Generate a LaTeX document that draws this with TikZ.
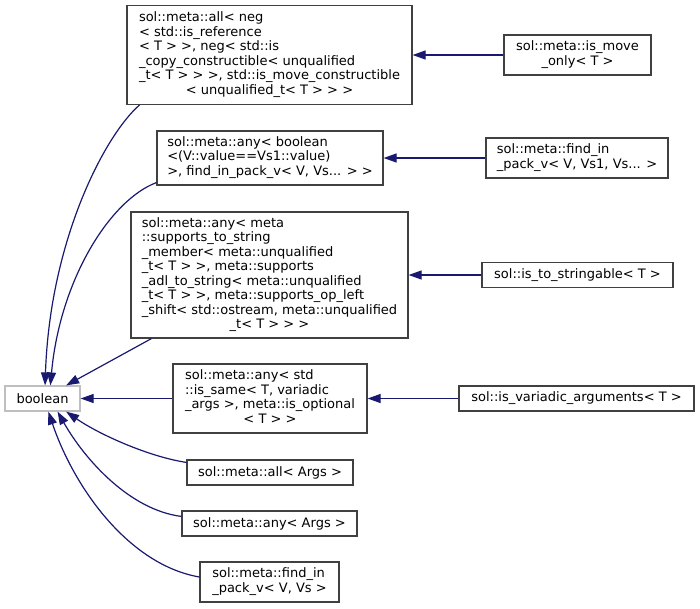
\documentclass[tikz,border=0pt]{standalone}
\usepackage{fontspec}
\newfontfamily\dejavu{DejaVu Sans}
\usetikzlibrary{arrows.meta}
\definecolor{edgeblue}{HTML}{191970}
\definecolor{boxgray}{HTML}{404040}
\definecolor{basegray}{HTML}{BFBFBF}
\newcommand{\lastln}[1]{\multicolumn{1}{@{}c@{}}{#1}}

\begin{document}
\begin{tikzpicture}[x=1pt, y=-1pt,
    cls/.style={draw=boxgray, line width=1.2pt, fill=white, inner sep=0pt,
      font=\dejavu\fontsize{13}{14.5}\selectfont},
    basecls/.style={cls, draw=basegray},
    inh/.style={draw=edgeblue, line width=1.2pt, -{Triangle[length=13pt,width=9pt]}}]
      \useasboundingbox (0,0) rectangle (700,608);

      \node[basecls, minimum width=75pt, minimum height=25pt] (base) at (42.5,398.5) {boolean};

      \node[cls, minimum width=285pt, minimum height=99pt] (par1) at (269.5,55) {\begin{tabular}{@{}l@{}}
        sol::meta::all< neg\\
        < std::is\_reference\\
        < T > >, neg< std::is\\
        \_copy\_constructible< unqualified\\
        \_t< T > > >, std::is\_move\_constructible\\
        \lastln{< unqualified\_t< T > > >}\end{tabular}};
      \node[cls, minimum width=226pt, minimum height=54pt] (par2) at (270,158) {\begin{tabular}{@{}l@{}}
        sol::meta::any< boolean\\
        <(V::value==Vs1::value)\\
        \lastln{>, find\_in\_pack\_v< V, Vs... > >}\end{tabular}};
      \node[cls, minimum width=277pt, minimum height=126pt] (par3) at (269.5,275) {\begin{tabular}{@{}l@{}}
        sol::meta::any< meta\\
        ::supports\_to\_string\\
        \_member< meta::unqualified\\
        \_t< T > >, meta::supports\\
        \_adl\_to\_string< meta::unqualified\\
        \_t< T > >, meta::supports\_op\_left\\
        \_shift< std::ostream, meta::unqualified\\
        \lastln{\_t< T > > >}\end{tabular}};
      \node[cls, minimum width=194pt, minimum height=69pt] (par4) at (270,398.5) {\begin{tabular}{@{}l@{}}
        sol::meta::any< std\\
        ::is\_same< T, variadic\\
        \_args >, meta::is\_optional\\
        \lastln{< T > >}\end{tabular}};
      \node[cls, minimum width=166pt, minimum height=25pt] (par5) at (270,472.5) {sol::meta::all< Args >};
      \node[cls, minimum width=175pt, minimum height=25pt] (par6) at (269.5,523.5) {sol::meta::any< Args >};
      \node[cls, minimum width=139pt, minimum height=40pt] (par7) at (269.5,582) {\begin{tabular}{@{}l@{}}
        sol::meta::find\_in\\
        \lastln{\_pack\_v< V, Vs >}\end{tabular}};

      \node[cls, minimum width=147pt, minimum height=40pt] (sub1) at (577.5,55) {\begin{tabular}{@{}l@{}}
        sol::meta::is\_move\\
        \lastln{\_only< T >}\end{tabular}};
      \node[cls, minimum width=182pt, minimum height=40pt] (sub2) at (577,158) {\begin{tabular}{@{}l@{}}
        sol::meta::find\_in\\
        \lastln{\_pack\_v< V, Vs1, Vs... >}\end{tabular}};
      \node[cls, minimum width=191pt, minimum height=25pt] (sub3) at (577.5,275) {sol::is\_to\_stringable< T >};
      \node[cls, minimum width=235pt, minimum height=25pt] (sub4) at (576.5,398.5) {sol::is\_variadic\_arguments< T >};

      \draw[inh] ([xshift=13pt]par1.south west) .. controls (105,135) and (50,240) .. (base.79);
      \draw[inh] ([yshift=3pt]par2.south west) .. controls (110,200) and (60,280) .. (base.59);
      \draw[inh] ([xshift=21pt]par3.south west) -- (base.29);
      \draw[inh] (par4) -- (base);
      \draw[inh] ([yshift=-3pt]par5.north west) .. controls (150,457) and (100,435) .. (base.-29);
      \draw[inh] ([yshift=-6pt]par6.north west) .. controls (130,510) and (85,460) .. (base.-41);
      \draw[inh] ([yshift=5pt]par7.west) .. controls (130,565) and (75,490) .. (base.-66);

      \draw[inh] (sub1) -- (par1);
      \draw[inh] (sub2) -- (par2);
      \draw[inh] (sub3) -- (par3);
      \draw[inh] (sub4) -- (par4);

    \end{tikzpicture}
\end{document}
